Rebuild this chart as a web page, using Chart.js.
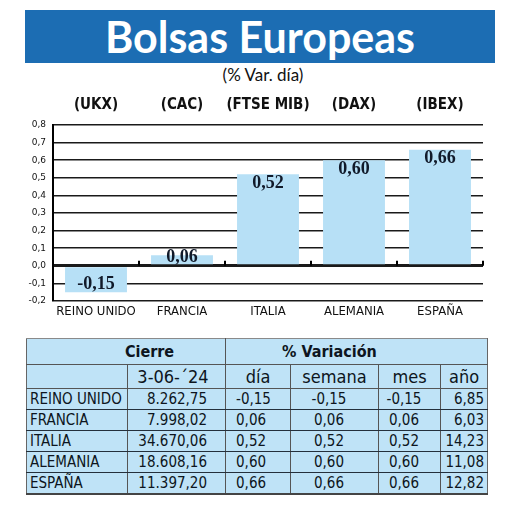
<!DOCTYPE html>
<html>
<head>
<meta charset="utf-8">
<script src="https://cdn.jsdelivr.net/npm/chart.js@4.4.1/dist/chart.umd.min.js"></script>
<style>
    body { margin: 0; background: #ffffff; width: 520px; height: 522px; position: relative; overflow: hidden; }
    #banner {
        position: absolute; left: 25px; top: 10px; width: 470px; height: 53px;
        background: #1c6db3; color: #ffffff; text-align: center;
        font: bold 43px Lato, "Open Sans", sans-serif; line-height: 53px;
    }
    #subtitle {
        position: absolute; left: 0; top: 64px; width: 526px; text-align: center;
        font: 17px Lato, sans-serif; color: #111;
    }
    #chartBox { position: absolute; left: 0; top: 88px; width: 520px; height: 240px; }
    #tbl {
        position: absolute; left: 26px; top: 338px; width: 461px;
        table-layout: fixed; border-collapse: collapse; background: #bfe3f7;
        font-family: "Liberation Sans Narrow", "DejaVu Sans Condensed", sans-serif;
        font-size: 15px; color: #0d1520;
        border-top: 1px solid #8a8a8a; border-left: 1px solid #666;
        border-right: 1px solid #666; border-bottom: 2px solid #444;
    }
    #tbl td { padding: 0 3px; border-bottom: 1.5px solid #24303c; white-space: nowrap; overflow: hidden; }
    #tbl tr.h1 td { height: 25px; font-weight: bold; font-size: 16px; border-bottom: 1px solid #555; }
    #tbl tr.h2 td { height: 23px; font-size: 18px; border-bottom: 1px solid #555; }
    #tbl tr.d td { height: 20px; line-height: 20px; }
    #tbl td.v { border-left: 1px solid #555; }
</style>
</head>
<body>
<div id="banner">Bolsas Europeas</div>
<div id="subtitle">(% Var. día)</div>
<div id="chartBox"><canvas id="barChart"></canvas></div>
<table id="tbl">
    <colgroup>
        <col style="width:101px"><col style="width:98px"><col style="width:65px">
        <col style="width:88px"><col style="width:62px"><col style="width:47px">
    </colgroup>
    <tbody id="tbl-body"></tbody>
</table>

<script>
var categories = ['REINO UNIDO', 'FRANCIA', 'ITALIA', 'ALEMANIA', 'ESPAÑA'];
var indexCodes = ['(UKX)', '(CAC)', '(FTSE MIB)', '(DAX)', '(IBEX)'];
var dayChange = [-0.15, 0.06, 0.52, 0.60, 0.66];
var closeDate = '3-06-´24';
var closeValues = ['8.262,75', '7.998,02', '34.670,06', '18.608,16', '11.397,20'];
var weekChange = [-0.15, 0.06, 0.52, 0.60, 0.66];
var monthChange = [-0.15, 0.06, 0.52, 0.60, 0.66];
var yearChange = [6.85, 6.03, 14.23, 11.08, 12.82];
var yMin = -0.2;
var yMax = 0.8;
var yStep = 0.1;

var condensed = '"Liberation Sans Narrow", "DejaVu Sans Condensed", sans-serif';

function fmt(v, d) {
    return v.toFixed(d).replace('.', ',');
}

var labelsPlugin = {
    id: 'barLabels',
    afterDatasetsDraw: function(chart) {
        var ctx = chart.ctx;
        var meta = chart.getDatasetMeta(0);
        var yScale = chart.scales.y;
        var xScale = chart.scales.x;
        var base = yScale.getPixelForValue(0);
        ctx.save();
        ctx.textAlign = 'center';
        ctx.textBaseline = 'middle';
        ctx.fillStyle = '#111a2a';
        ctx.font = 'bold 18px "Liberation Serif", serif';
        meta.data.forEach(function(bar, i) {
            var v = dayChange[i];
            var y = v >= 0 ? Math.min(bar.y + 9, base - 8) : Math.max(bar.y - 8, base + 8);
            ctx.fillText(fmt(v, 2), bar.x, y);
        });
        // index codes above the plot
        ctx.fillStyle = '#111';
        ctx.font = 'bold 15px ' + condensed;
        meta.data.forEach(function(bar, i) {
            ctx.fillText(indexCodes[i], bar.x, chart.chartArea.top - 20);
        });
        // small ticks on the zero line
        ctx.strokeStyle = '#000';
        ctx.lineWidth = 2;
        for (var i = 1; i <= categories.length; i++) {
            var x = i < categories.length
                ? (xScale.getPixelForValue(i - 1) + xScale.getPixelForValue(i)) / 2
                : chart.chartArea.right;
            ctx.beginPath();
            ctx.moveTo(x, base);
            ctx.lineTo(x, base - 5);
            ctx.stroke();
        }
        ctx.restore();
    }
};

function buildBarChart() {
    var ctx = document.getElementById('barChart').getContext('2d');
    new Chart(ctx, {
        type: 'bar',
        data: {
            labels: categories,
            datasets: [{
                data: dayChange,
                backgroundColor: '#b7e0f6',
                borderWidth: 0,
                barPercentage: 0.72,
                categoryPercentage: 1
            }]
        },
        options: {
            responsive: true,
            maintainAspectRatio: false,
            animation: false,
            layout: { padding: { top: 37, right: 37, left: 0, bottom: 0 } },
            plugins: {
                legend: { display: false },
                tooltip: { enabled: false }
            },
            scales: {
                y: {
                    min: yMin,
                    max: yMax,
                    afterFit: function(scale) { scale.width = 53; },
                    ticks: {
                        stepSize: yStep,
                        color: '#111',
                        padding: 7,
                        font: { size: 9, family: 'DejaVu Sans' },
                        callback: function(value) { return fmt(value, 1); }
                    },
                    grid: {
                        drawTicks: false,
                        color: '#1a1a1a',
                        lineWidth: function(c) {
                            return Math.abs(c.tick.value) < 1e-9 ? 3 : 1.6;
                        }
                    },
                    border: { display: true, color: '#000', width: 2 }
                },
                x: {
                    afterFit: function(scale) { scale.height = 27; },
                    ticks: {
                        color: '#111',
                        padding: 3,
                        maxRotation: 0,
                        minRotation: 0,
                        autoSkip: false,
                        font: { size: 13, family: condensed }
                    },
                    grid: { display: false, drawTicks: false },
                    border: { display: false }
                }
            }
        },
        plugins: [labelsPlugin]
    });
}

function buildTable() {
    var tbody = document.getElementById('tbl-body');
    var html = '';
    html += '<tr class="h1"><td colspan="2" style="text-align:center;padding-left:50px">Cierre</td>' +
        '<td class="v" colspan="4" style="text-align:left;padding-left:56px">% Variación</td></tr>';
    html += '<tr class="h2"><td></td>' +
        '<td class="v" style="text-align:center;padding-right:10px">' + closeDate + '</td>' +
        '<td class="v" style="text-align:center">día</td>' +
        '<td class="v" style="text-align:center">semana</td>' +
        '<td class="v" style="text-align:center">mes</td>' +
        '<td class="v" style="text-align:center">año</td></tr>';
    categories.forEach(function(name, i) {
        html += '<tr class="d">' +
            '<td>' + name + '</td>' +
            '<td class="v" style="text-align:right;padding-right:18px">' + closeValues[i] + '</td>' +
            '<td class="v" style="text-align:left;padding-left:10px">' + fmt(dayChange[i], 2) + '</td>' +
            '<td class="v" style="text-align:center;padding-right:14px">' + fmt(weekChange[i], 2) + '</td>' +
            '<td class="v" style="text-align:center;padding-right:14px">' + fmt(monthChange[i], 2) + '</td>' +
            '<td class="v" style="text-align:right">' + fmt(yearChange[i], 2) + '</td>' +
            '</tr>';
    });
    tbody.innerHTML = html;
}

buildBarChart();
buildTable();
</script>
</body>
</html>
